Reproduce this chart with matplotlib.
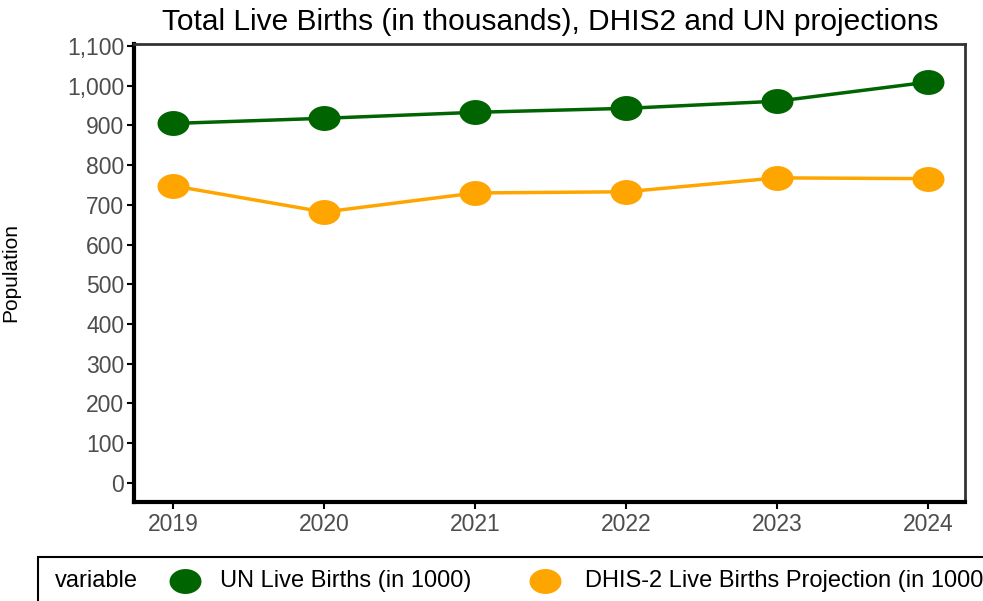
import numpy as np
import matplotlib
matplotlib.use("Agg")
import matplotlib.pyplot as plt
from matplotlib.path import Path
from matplotlib.lines import Line2D
from matplotlib.patches import Rectangle

years = [2019, 2020, 2021, 2022, 2023, 2024]
un_births = [905, 918, 933, 943, 961, 1009]
dhis_births = [748, 682, 730, 733, 768, 766]
series_labels = ["UN Live Births (in 1000)", "DHIS-2 Live Births Projection (in 1000)"]
series_colors = ["#006400", "#FFA500"]
yticks = list(range(0, 1101, 100))
title = "Total Live Births (in thousands), DHIS2 and UN projections"

plt.rcParams['font.family'] = ['Liberation Sans', 'DejaVu Sans']

# elliptical marker (reference is horizontally stretched)
t = np.linspace(0, 2 * np.pi, 60)
ell = Path(np.column_stack([1.3 * np.cos(t), np.sin(t)]), closed=True)

fig = plt.figure(figsize=(9.83, 6.01), dpi=100)
ax = fig.add_axes([134 / 983, 1 - 502 / 601, (965 - 134) / 983, (502 - 44) / 601])

for vals, col in zip([un_births, dhis_births], series_colors):
    ax.plot(years, vals, color=col, lw=2.5, marker=ell, ms=22, mec=col, mfc=col, zorder=3)

ax.set_xlim(2018.74, 2024.245)
ax.set_ylim(-48, 1105)
ax.set_xticks(years)
ax.set_xticklabels([str(y) for y in years])
ax.set_yticks(yticks)
ax.set_yticklabels([f"{v:,}" for v in yticks])
ax.tick_params(axis='both', colors='black', labelcolor='#4D4D4D', labelsize=16.5,
               length=5, width=1.5)
ax.tick_params(axis='x', pad=3)
ax.tick_params(axis='y', pad=2)
for s in ['left', 'bottom']:
    ax.spines[s].set_linewidth(3)
    ax.spines[s].set_color('black')
for s in ['top', 'right']:
    ax.spines[s].set_linewidth(2)
    ax.spines[s].set_color('#333333')

ax.set_ylabel("Population", fontsize=15, color='black')
ax.yaxis.set_label_coords(-(134 - 20) / 831, 0.5)
fig.text(550 / 983, 1 - 22 / 601, title, ha='center', va='center', fontsize=21.5, color='black')

# legend (cut off at right edge as in reference)
fig.add_artist(Rectangle((38 / 983, 1 - 640 / 601), (1100 - 38) / 983, (640 - 557) / 601,
                         transform=fig.transFigure, fill=False, ec='black', lw=1.5))
ly = 1 - 581 / 601
fig.text(55 / 983, ly, "variable", ha='left', va='center', fontsize=17, color='black')
for xm, xt, lab, col in zip([185, 545], [220, 585], series_labels, series_colors):
    fig.add_artist(Line2D([xm / 983], [ly], transform=fig.transFigure, marker=ell, ms=22,
                          mfc=col, mec=col, ls='none'))
    fig.text(xt / 983, ly, lab, ha='left', va='center', fontsize=17, color='black')

fig.savefig("out.png", dpi=100)
